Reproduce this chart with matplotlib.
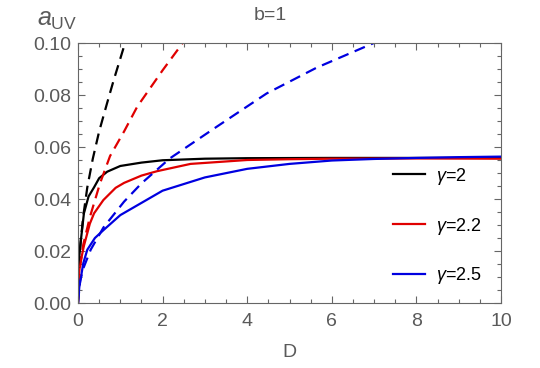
import matplotlib
matplotlib.use("Agg")
import matplotlib.pyplot as plt
from matplotlib.ticker import MultipleLocator

plt.rcParams['font.family'] = ['Liberation Sans', 'DejaVu Sans']
plt.rcParams['mathtext.fontset'] = 'custom'
plt.rcParams['mathtext.rm'] = 'Liberation Sans'
plt.rcParams['mathtext.it'] = 'Liberation Sans:italic'

# solid curves (a_UV vs D)
D_black = [0, 0.02, 0.06, 0.14, 0.25, 0.38, 0.5, 0.69, 1.0, 1.5, 2, 3, 4, 6, 8, 10]
a_black = [0.008, 0.016, 0.023, 0.0345, 0.041, 0.0445, 0.048, 0.0505, 0.0527, 0.054,
           0.0549, 0.0555, 0.0557, 0.0558, 0.0558, 0.0558]

D_red = [0, 0.05, 0.14, 0.28, 0.38, 0.6, 0.89, 1.09, 1.5, 1.87, 2.66, 4, 5, 6, 8, 10]
a_red = [0.008, 0.015, 0.022, 0.0305, 0.0345, 0.0396, 0.0443, 0.0462, 0.049, 0.0507,
         0.0535, 0.055, 0.0553, 0.0555, 0.0556, 0.0555]

D_blue = [0, 0.03, 0.06, 0.125, 0.22, 0.4, 0.6, 1.0, 1.5, 2, 3, 4, 5, 6, 7, 8, 9, 10]
a_blue = [0, 0.006, 0.009, 0.0153, 0.0205, 0.025, 0.028, 0.0338, 0.0385, 0.0432, 0.0483,
          0.0516, 0.0535, 0.0548, 0.0554, 0.0558, 0.0561, 0.0563]

# dashed curves
Dd_black = [0, 0.02, 0.06, 0.125, 0.22, 0.35, 0.5, 0.69, 0.84, 1.0, 1.15]
ad_black = [0, 0.013, 0.023, 0.0335, 0.0445, 0.0555, 0.066, 0.077, 0.0855, 0.094, 0.102]

Dd_red = [0, 0.05, 0.125, 0.28, 0.52, 0.757, 1.09, 1.4, 1.7, 2.0, 2.43, 2.6]
ad_red = [0, 0.014, 0.0225, 0.033, 0.046, 0.0565, 0.066, 0.0755, 0.0825, 0.0895, 0.099, 0.103]

Dd_blue = [0, 0.05, 0.125, 0.3, 0.6, 1.09, 1.5, 2.17, 3.28, 4.46, 5.64, 6.98, 7.3]
ad_blue = [0, 0.0085, 0.0133, 0.0205, 0.029, 0.039, 0.046, 0.0556, 0.0678, 0.0806,
           0.0905, 0.0999, 0.1018]

labels = [r'$\gamma$=2', r'$\gamma$=2.2', r'$\gamma$=2.5']
colors = ['black', '#e00000', '#0000e0']

gray = '#666666'
fig = plt.figure(figsize=(5.4, 3.68), dpi=100)
ax = fig.add_axes([78 / 540, 65 / 368, 423 / 540, 260 / 368])

solid = [(D_black, a_black), (D_red, a_red), (D_blue, a_blue)]
dashed = [(Dd_black, ad_black), (Dd_red, ad_red), (Dd_blue, ad_blue)]
for (x, y), lab, c in zip(solid, labels, colors):
    ax.plot(x, y, color=c, lw=1.6, label=lab)
for (x, y), c in zip(dashed, colors):
    ax.plot(x, y, color=c, lw=1.6, dashes=(5, 3))

ax.set_xlim(0, 10)
ax.set_ylim(0, 0.1)
ax.xaxis.set_major_locator(MultipleLocator(2))
ax.xaxis.set_minor_locator(MultipleLocator(0.5))
ax.yaxis.set_major_locator(MultipleLocator(0.02))
ax.yaxis.set_minor_locator(MultipleLocator(0.005))
ax.yaxis.set_major_formatter(plt.FormatStrFormatter('%.2f'))
ax.xaxis.set_major_formatter(plt.FormatStrFormatter('%d'))
ax.tick_params(which='both', direction='in', top=True, right=True, colors=gray,
               labelcolor='#5a5a5a', labelsize=14, width=0.8)
ax.tick_params(which='major', length=5)
ax.tick_params(which='minor', length=3)
ax.tick_params(axis='x', pad=7)
ax.tick_params(axis='y', pad=5)
for s in ax.spines.values():
    s.set_color(gray)
    s.set_linewidth(0.8)

ax.set_xlabel('D', fontsize=14, color='#5a5a5a', labelpad=10)
fig.text(77 / 540, 1 - 20 / 368, r'$a_{\mathrm{UV}}$', fontsize=18, color='#5a5a5a',
         ha='right', va='center')
fig.text(0.5, 1 - 16 / 368, 'b=1', fontsize=14, color='#5a5a5a', ha='center', va='center')

ax.legend(loc='center left', bbox_to_anchor=(0.745, 0.296), frameon=False,
          fontsize=13, handlelength=1.75, handletextpad=0.6, labelspacing=1.6,
          borderpad=0, borderaxespad=0)

fig.savefig('out.png', dpi=100)
